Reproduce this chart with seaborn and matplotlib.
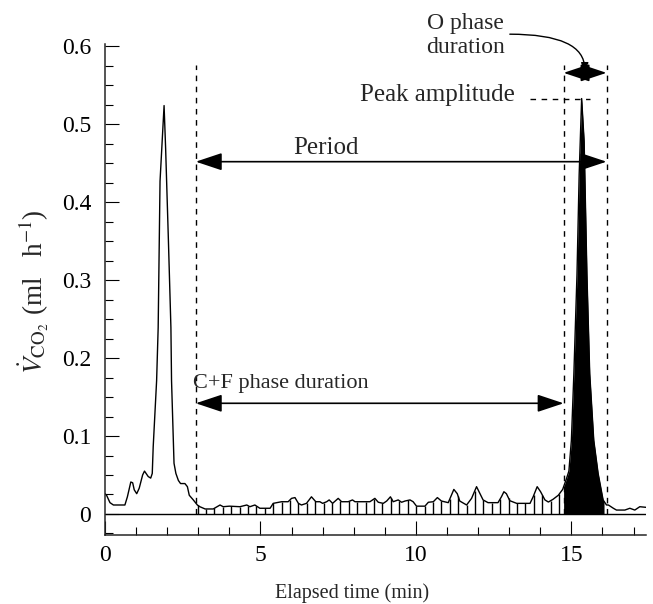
import numpy as np
import pandas as pd
import matplotlib
matplotlib.use("Agg")
import matplotlib.pyplot as plt
import seaborn as sns
from matplotlib.ticker import MultipleLocator, FixedLocator, FixedFormatter

# ---------------- data ----------------
time_min = [0.00, 0.05, 0.16, 0.27, 0.64, 0.72, 0.83, 0.89, 0.94, 1.02, 1.10, 1.21,
            1.27, 1.32, 1.39, 1.47, 1.52, 1.55, 1.66, 1.71, 1.77, 1.90, 1.95, 2.04,
            2.12, 2.14, 2.22, 2.28, 2.36, 2.43, 2.57, 2.65, 2.71, 2.84, 2.97, 3.05,
            3.22, 3.48, 3.70, 3.80, 4.00, 4.34, 4.56, 4.66, 4.82, 4.98, 5.31, 5.41,
            5.68, 5.89, 6.00, 6.11, 6.22, 6.32, 6.48, 6.64, 6.78, 6.91, 7.00, 7.13,
            7.21, 7.32, 7.50, 7.61, 7.82, 7.96, 8.04, 8.22, 8.43, 8.52, 8.68, 8.79,
            8.95, 9.06, 9.18, 9.27, 9.43, 9.54, 9.65, 9.81, 9.91, 10.02, 10.29, 10.40,
            10.56, 10.69, 10.82, 11.04, 11.14, 11.22, 11.33, 11.41, 11.63, 11.79, 11.95,
            12.06, 12.16, 12.32, 12.64, 12.75, 12.83, 12.91, 13.02, 13.24, 13.67, 13.77,
            13.90, 14.01, 14.15, 14.26, 14.41, 14.58, 14.72, 14.84, 14.92, 15.00, 15.08,
            15.18, 15.25, 15.33, 15.41, 15.50, 15.59, 15.72, 15.86, 16.02, 16.13, 16.19,
            16.35, 16.45, 16.72, 16.88, 17.04, 17.20, 17.40]
vco2 = [0.026, 0.024, 0.0145, 0.0115, 0.0115, 0.022, 0.041, 0.040, 0.031, 0.026, 0.033, 0.050,
        0.055, 0.052, 0.048, 0.046, 0.052, 0.086, 0.171, 0.239, 0.427, 0.524, 0.469, 0.350,
        0.239, 0.171, 0.065, 0.052, 0.043, 0.039, 0.039, 0.035, 0.024, 0.018, 0.0115, 0.0093,
        0.0064, 0.0064, 0.0115, 0.0093, 0.010, 0.0093, 0.0115, 0.0093, 0.0115, 0.0073, 0.0073, 0.0136,
        0.0157, 0.0157, 0.020, 0.021, 0.0136, 0.0115, 0.0136, 0.022, 0.0157, 0.0157, 0.0136, 0.0157,
        0.018, 0.0136, 0.020, 0.0157, 0.0157, 0.018, 0.0157, 0.0157, 0.0157, 0.0157, 0.020, 0.015,
        0.0136, 0.0166, 0.022, 0.0157, 0.018, 0.015, 0.0166, 0.018, 0.0157, 0.010, 0.010, 0.015,
        0.0157, 0.021, 0.0166, 0.0145, 0.024, 0.0315, 0.026, 0.0166, 0.0115, 0.020, 0.035,
        0.026, 0.018, 0.0145, 0.0145, 0.022, 0.0285, 0.026, 0.017, 0.0136, 0.0136, 0.022,
        0.035, 0.0285, 0.018, 0.0153, 0.0188, 0.024, 0.0315, 0.045, 0.055, 0.0945, 0.180,
        0.307, 0.435, 0.533, 0.478, 0.307, 0.180, 0.0945, 0.052, 0.018, 0.0115, 0.0115,
        0.0073, 0.005, 0.005, 0.0073, 0.005, 0.0093, 0.0085]

x_ticks = [0, 5, 10, 15]
x_tick_labels = ["0", "5", "10", "15"]
y_ticks = [0, 0.1, 0.2, 0.3, 0.4, 0.5, 0.6]
y_tick_labels = ["0", "0.1", "0.2", "0.3", "0.4", "0.5", "0.6"]

cf_start = 2.92          # start of C+F phase (min)
o_start = 14.75          # start of O phase
o_end = 16.13            # end of period
o_fill_end = 16.05       # end of the filled burst
peak_amplitude = 0.533
period_level = 0.452
cf_level = 0.142
o_level = 0.566
guide_top = 0.576
hatch_start, hatch_end, n_hatch = 2.98, 14.60, 44

# ---------------- style ----------------
sns.set_style("ticks")
plt.rcParams['font.family'] = ['Liberation Serif', 'DejaVu Serif']
plt.rcParams['mathtext.fontset'] = 'stix'

fig = plt.figure(figsize=(6.53, 6.04), dpi=100)
ax = fig.add_axes([105 / 653, 1 - 535 / 604, 541 / 653, 491 / 604])

df = pd.DataFrame({"t": time_min, "v": vco2})
sns.lineplot(data=df, x="t", y="v", ax=ax, color="black", lw=1.0,
             sort=False, estimator=None)

# hatching under the C+F phase
hx = np.linspace(hatch_start, hatch_end, n_hatch)
ax.vlines(hx, 0, np.interp(hx, time_min, vco2), color="black", lw=1.0)

# filled O-phase burst
t_arr = np.array(time_min)
inner = t_arr[(t_arr > o_start) & (t_arr < o_fill_end)]
fx = np.concatenate([[o_start], inner, [o_fill_end]])
ax.fill_between(fx, 0, np.interp(fx, time_min, vco2), color="black", lw=0)

# baseline
ax.axhline(0, color="black", lw=1.0)

# dashed guides
dash = (0, (4, 4))
ax.vlines([cf_start, o_start, o_end], 0, guide_top, colors="black",
          linestyles=[dash], lw=1.0)
ax.hlines(peak_amplitude, 13.67, 15.59, colors="black", linestyles=[dash], lw=1.0)

arrow_kw = dict(arrowstyle="<|-|>,head_length=0.9,head_width=0.3", color="black",
                lw=1.2, shrinkA=0, shrinkB=0, mutation_scale=18)
ax.annotate("", xy=(o_end, period_level), xytext=(cf_start, period_level),
            arrowprops=arrow_kw)
ax.annotate("", xy=(o_start, cf_level), xytext=(cf_start, cf_level),
            arrowprops=arrow_kw)
ax.annotate("", xy=(o_end, o_level), xytext=(o_start, o_level),
            arrowprops=arrow_kw, annotation_clip=False)

fs = 16
ax.text(7.1, 0.47, "Period", ha="center", va="center", fontsize=18)
ax.text(5.67, 0.167, "C+F phase duration", ha="center", va="center", fontsize=fs)
ax.text(13.18, 0.538, "Peak amplitude", ha="right", va="center", fontsize=18)
ax.text(12.86, 0.6137, "O phase\nduration", ha="right", va="center",
        multialignment="center", fontsize=17, clip_on=False)
ax.annotate("", xy=(15.43, o_level + 0.003), xytext=(13.02, 0.6156),
            annotation_clip=False,
            arrowprops=dict(arrowstyle="-|>,head_length=0.45,head_width=0.22",
                            color="black", lw=1.0,
                            connectionstyle="angle3,angleA=0,angleB=90",
                            shrinkA=0, shrinkB=0))

# axes
ax.set_xlim(0, 17.4)
ax.set_ylim(-0.027, 0.603)
sns.despine(ax=ax)
for s in ["left", "bottom"]:
    ax.spines[s].set_linewidth(1.1)
ax.xaxis.set_major_locator(FixedLocator(x_ticks))
ax.xaxis.set_major_formatter(FixedFormatter(x_tick_labels))
ax.yaxis.set_major_locator(FixedLocator(y_ticks))
ax.yaxis.set_major_formatter(FixedFormatter(y_tick_labels))
ax.xaxis.set_minor_locator(MultipleLocator(1))
ax.yaxis.set_minor_locator(MultipleLocator(0.025))
ax.tick_params(which="both", direction="in", width=0.8, color="black",
               labelsize=17, labelcolor="black")
ax.tick_params(which="major", length=10)
ax.tick_params(which="minor", length=5.5)
ax.tick_params(axis="y", pad=10)
ax.tick_params(axis="x", pad=7)

ax.set_xlabel("Elapsed time (min)", fontsize=14.5)
ax.set_ylabel(r"$\dot{V}_{\mathrm{CO_2}}$ (ml   h$^{-1}$)", fontsize=19.5)
ax.xaxis.set_label_coords(0.457, -0.098)
ax.yaxis.set_label_coords(-0.1, 0.495)

fig.savefig("out.png", dpi=100)
